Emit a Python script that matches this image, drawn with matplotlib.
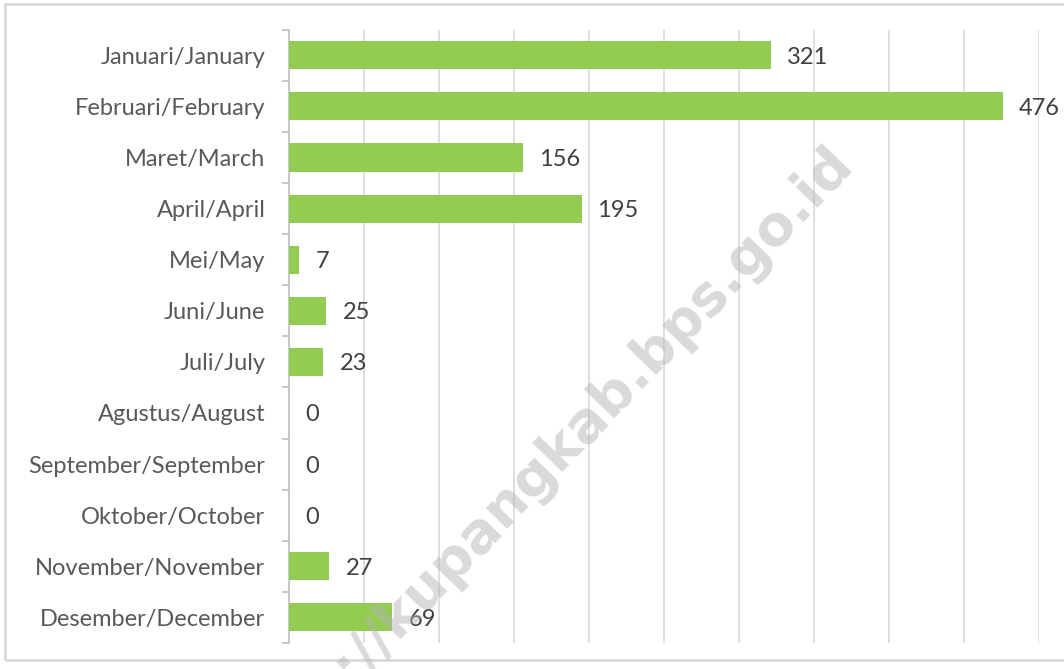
import numpy as np
import matplotlib.pyplot as plt
from matplotlib.patches import Rectangle

# month labels (Indonesian/English) and the values shown on the bars
months = ['Januari/January', 'Februari/February', 'Maret/March', 'April/April',
          'Mei/May', 'Juni/June', 'Juli/July', 'Agustus/August',
          'September/September', 'Oktober/October', 'November/November',
          'Desember/December']
values = [321, 476, 156, 195, 7, 25, 23, 0, 0, 0, 27, 69]
grid_ticks = [50, 100, 150, 200, 250, 300, 350, 400, 450, 500]

plt.rcParams['font.family'] = ['Lato', 'DejaVu Sans']

fig = plt.figure(figsize=(10.64, 6.69), dpi=100)
ax = fig.add_axes([0.2716, 0.039, 0.705, 0.9165])

y = np.arange(len(months))
ax.barh(y, values, height=0.55, color='#92CC52', zorder=3)

# value labels just past each bar end
for yi, v in zip(y, values):
    ax.annotate(str(v), (v, yi), xytext=(11.5, 0), textcoords='offset points',
                va='center_baseline', ha='left', fontsize=17, color='#404040',
                zorder=4)

ax.set_xlim(0, 500)
ax.set_ylim(len(months) - 0.5, -0.5)
ax.set_xticks(grid_ticks)
ax.set_xticklabels([])
ax.tick_params(axis='x', length=0)
ax.grid(axis='x', color='#D9D9D9', linewidth=1.2, zorder=0)

ax.set_yticks(y)
ax.set_yticklabels(months, fontsize=17, color='#595959')
ax.set_yticks(np.arange(len(months) + 1) - 0.5, minor=True)
ax.tick_params(axis='y', which='major', length=0, pad=17)
ax.tick_params(axis='y', which='minor', length=5, color='#BFBFBF', width=1.2)

for s in ['top', 'right', 'bottom']:
    ax.spines[s].set_visible(False)
ax.spines['left'].set_color('#BFBFBF')
ax.spines['left'].set_linewidth(1.2)

# outer chart border
fig.patches.append(Rectangle((5 / 1064, 1 - 660 / 669), 1.0, 656 / 669,
                             transform=fig.transFigure, fill=False,
                             edgecolor='#D9D9D9', linewidth=2, zorder=0))

# diagonal watermark
fig.text(855 / 1064, 1 - 165 / 669, 'https://kupangkab.bps.go.id',
         rotation=46, rotation_mode='anchor', ha='right', va='baseline',
         fontsize=40, fontweight='bold', family=['DejaVu Sans'],
         color='#B5B5B5', alpha=0.5, zorder=10)

fig.savefig('out.png', dpi=100)
